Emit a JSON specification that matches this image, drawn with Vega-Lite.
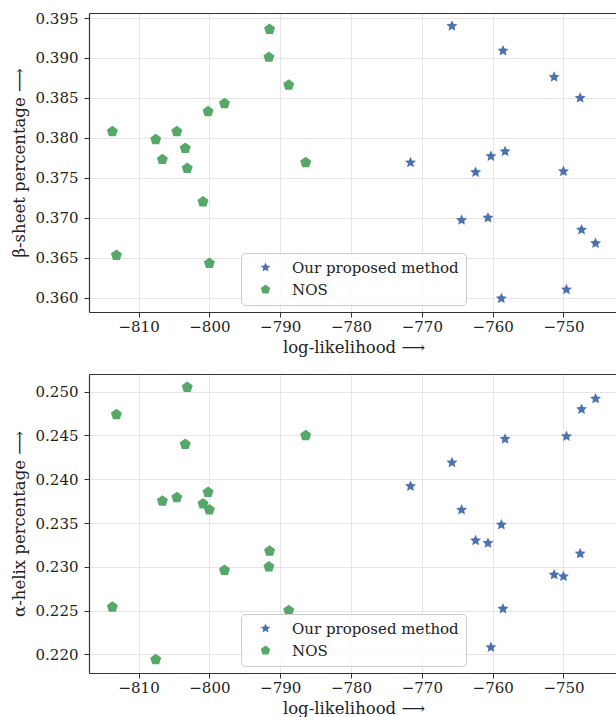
{
  "$schema": "https://vega.github.io/schema/vega-lite/v6.json",
  "autosize": {"type": "pad"},
  "padding": {"left": 11, "top": 11, "right": 0, "bottom": 0},
  "background": "white",
  "bounds": "flush",
  "spacing": 62,
  "config": {
    "font": "DejaVu Serif",
    "view": {"stroke": null},
    "axis": {
      "domainColor": "#333333", "domainWidth": 1.2,
      "tickColor": "#333333", "tickSize": 5, "tickWidth": 1,
      "gridColor": "#e5e5e5", "gridWidth": 1,
      "labelFont": "DejaVu Serif", "labelFontSize": 15, "labelColor": "#222222",
      "titleFont": "DejaVu Serif", "titleFontSize": 16.5, "titleFontWeight": "normal", "titleColor": "#222222"
    },
    "axisX": {"labelPadding": 2},
    "axisY": {"labelPadding": 6},
    "legend": {
      "labelFont": "DejaVu Serif", "labelFontSize": 15, "labelColor": "#222222", "labelLimit": 400,
      "fillColor": "rgba(255,255,255,0.8)", "strokeColor": "#cccccc", "cornerRadius": 4,
      "padding": 7, "symbolOffset": 10, "labelOffset": 19, "rowPadding": 6
    }
  },
  "datasets": {
    "pts": [
      {"method": "Our proposed method", "ll": -765.75, "beta": 0.3940, "alpha": 0.2419},
      {"method": "Our proposed method", "ll": -758.54, "beta": 0.3909, "alpha": 0.2252},
      {"method": "Our proposed method", "ll": -751.32, "beta": 0.3876, "alpha": 0.2291},
      {"method": "Our proposed method", "ll": -747.64, "beta": 0.3850, "alpha": 0.2315},
      {"method": "Our proposed method", "ll": -758.25, "beta": 0.3783, "alpha": 0.2446},
      {"method": "Our proposed method", "ll": -760.24, "beta": 0.3777, "alpha": 0.2208},
      {"method": "Our proposed method", "ll": -771.60, "beta": 0.3769, "alpha": 0.2392},
      {"method": "Our proposed method", "ll": -762.41, "beta": 0.3757, "alpha": 0.2330},
      {"method": "Our proposed method", "ll": -750.00, "beta": 0.3758, "alpha": 0.2289},
      {"method": "Our proposed method", "ll": -764.39, "beta": 0.3697, "alpha": 0.2365},
      {"method": "Our proposed method", "ll": -760.66, "beta": 0.3700, "alpha": 0.2327},
      {"method": "Our proposed method", "ll": -747.45, "beta": 0.3685, "alpha": 0.2480},
      {"method": "Our proposed method", "ll": -745.47, "beta": 0.3668, "alpha": 0.2492},
      {"method": "Our proposed method", "ll": -749.58, "beta": 0.3610, "alpha": 0.2449},
      {"method": "Our proposed method", "ll": -758.77, "beta": 0.3599, "alpha": 0.2348},
      {"method": "NOS", "ll": -791.50, "beta": 0.3936, "alpha": 0.2318},
      {"method": "NOS", "ll": -791.60, "beta": 0.3901, "alpha": 0.2300},
      {"method": "NOS", "ll": -788.80, "beta": 0.3866, "alpha": 0.2250},
      {"method": "NOS", "ll": -797.87, "beta": 0.3843, "alpha": 0.2296},
      {"method": "NOS", "ll": -800.19, "beta": 0.3833, "alpha": 0.2385},
      {"method": "NOS", "ll": -813.70, "beta": 0.3808, "alpha": 0.2254},
      {"method": "NOS", "ll": -804.60, "beta": 0.3808, "alpha": 0.2379},
      {"method": "NOS", "ll": -807.58, "beta": 0.3798, "alpha": 0.2194},
      {"method": "NOS", "ll": -803.41, "beta": 0.3787, "alpha": 0.2440},
      {"method": "NOS", "ll": -806.64, "beta": 0.3773, "alpha": 0.2375},
      {"method": "NOS", "ll": -803.13, "beta": 0.3762, "alpha": 0.2505},
      {"method": "NOS", "ll": -786.40, "beta": 0.3769, "alpha": 0.2450},
      {"method": "NOS", "ll": -800.90, "beta": 0.3720, "alpha": 0.2372},
      {"method": "NOS", "ll": -813.13, "beta": 0.3653, "alpha": 0.2474},
      {"method": "NOS", "ll": -800.00, "beta": 0.3643, "alpha": 0.2365}
    ]
  },
  "resolve": {"legend": {"color": "independent", "shape": "independent"}},
  "vconcat": [
    {
      "width": 529, "height": 299,
      "data": {"name": "pts"},
      "resolve": {"axis": {"x": "independent"}},
      "layer": [
        {
          "mark": {"type": "point", "filled": true, "size": 134, "opacity": 1, "strokeWidth": 0},
          "encoding": {
            "x": {"field": "ll", "type": "quantitative", "scale": {"domain": [-817.0, -742.3], "nice": false, "zero": false},
                  "axis": {"values": [-810, -800, -790, -780, -770, -760, -750], "format": "d", "title": "log-likelihood ⟶", "titlePadding": 5}},
            "y": {"field": "beta", "type": "quantitative", "scale": {"domain": [0.3582, 0.39563], "nice": false, "zero": false},
                  "axis": {"values": [0.36, 0.365, 0.37, 0.375, 0.38, 0.385, 0.39, 0.395], "format": ".3f", "title": "β-sheet percentage ⟶", "titlePadding": 8}},
            "color": {"field": "method", "type": "nominal", "scale": {"domain": ["Our proposed method", "NOS"], "range": ["#4C72B0", "#55A868"]},
                      "legend": {"title": null, "orient": "none", "legendX": 152, "legendY": 240}},
            "shape": {"field": "method", "type": "nominal", "scale": {"domain": ["Our proposed method", "NOS"], "range": ["M0,-1L0.2763,-0.3802L0.9511,-0.309L0.447,0.1452L0.5878,0.809L0,0.47L-0.5878,0.809L-0.447,0.1452L-0.9511,-0.309L-0.2763,-0.3802Z", "M0,-1L0.951,-0.309L0.588,0.809L-0.588,0.809L-0.951,-0.309Z"]},
                      "legend": {"title": null, "orient": "none", "legendX": 152, "legendY": 240}}
          }
        },
        {
          "mark": {"type": "point", "opacity": 0},
          "encoding": {
            "x": {"field": "ll", "type": "quantitative", "axis": {"orient": "top", "labels": false, "ticks": false, "grid": false, "title": null}},
            "y": {"field": "beta", "type": "quantitative"}
          }
        }
      ]
    },
    {
      "width": 529, "height": 299,
      "data": {"name": "pts"},
      "resolve": {"axis": {"x": "independent"}},
      "layer": [
        {
          "mark": {"type": "point", "filled": true, "size": 134, "opacity": 1, "strokeWidth": 0},
          "encoding": {
            "x": {"field": "ll", "type": "quantitative", "scale": {"domain": [-817.0, -742.3], "nice": false, "zero": false},
                  "axis": {"values": [-810, -800, -790, -780, -770, -760, -750], "format": "d", "title": "log-likelihood ⟶", "titlePadding": 5}},
            "y": {"field": "alpha", "type": "quantitative", "scale": {"domain": [0.21787, 0.25202], "nice": false, "zero": false},
                  "axis": {"values": [0.22, 0.225, 0.23, 0.235, 0.24, 0.245, 0.25], "format": ".3f", "title": "α-helix percentage ⟶", "titlePadding": 8}},
            "color": {"field": "method", "type": "nominal", "scale": {"domain": ["Our proposed method", "NOS"], "range": ["#4C72B0", "#55A868"]},
                      "legend": {"title": null, "orient": "none", "legendX": 152, "legendY": 240}},
            "shape": {"field": "method", "type": "nominal", "scale": {"domain": ["Our proposed method", "NOS"], "range": ["M0,-1L0.2763,-0.3802L0.9511,-0.309L0.447,0.1452L0.5878,0.809L0,0.47L-0.5878,0.809L-0.447,0.1452L-0.9511,-0.309L-0.2763,-0.3802Z", "M0,-1L0.951,-0.309L0.588,0.809L-0.588,0.809L-0.951,-0.309Z"]},
                      "legend": {"title": null, "orient": "none", "legendX": 152, "legendY": 240}}
          }
        },
        {
          "mark": {"type": "point", "opacity": 0},
          "encoding": {
            "x": {"field": "ll", "type": "quantitative", "axis": {"orient": "top", "labels": false, "ticks": false, "grid": false, "title": null}},
            "y": {"field": "alpha", "type": "quantitative"}
          }
        }
      ]
    }
  ]
}
